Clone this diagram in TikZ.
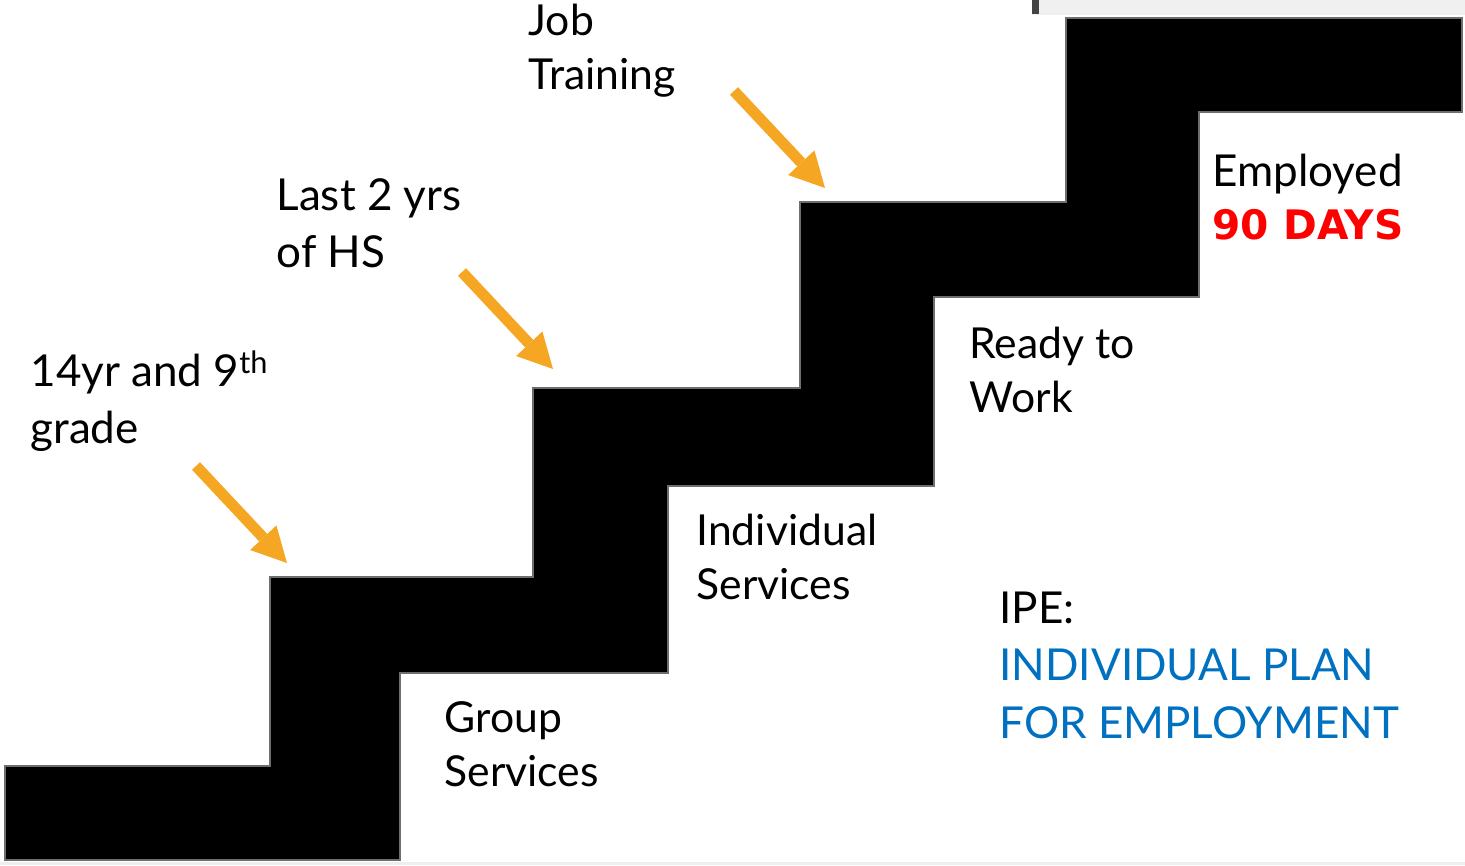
\documentclass[tikz,border=0pt]{standalone}
\usepackage{fontspec}
\setmainfont{Lato}
\newfontfamily\daysfont{DejaVu Sans}
\usetikzlibrary{arrows.meta}

\definecolor{stepOrange}{RGB}{245,166,35}
\definecolor{planBlue}{RGB}{0,112,192}
\definecolor{daysRed}{RGB}{255,0,0}

\tikzset{every picture/.style={line width=0.75pt}}
\tikzset{
  bigText/.style={anchor=base west, inner sep=0.75pt, align=left, font=\fontsize{33}{42.75}\selectfont},
  smallText/.style={anchor=base west, inner sep=0.75pt, align=left, font=\fontsize{32}{40.5}\selectfont},
  stepArrow/.style={draw=stepOrange, line width=8.25pt, -{Triangle[length=26pt,width=27pt,line width=0pt]}},
}

\begin{document}
\begin{tikzpicture}[x=0.75pt,y=0.75pt,yscale=-1,xscale=1]
\useasboundingbox (0,0) rectangle (1465,865);

%Shape: Rectangle (strip at the top)
\fill [color={rgb,255:red,240;green,240;blue,240}] (1032,0) rectangle (1465,15) ;
\fill [color={rgb,255:red,68;green,68;blue,68}] (1032,0) rectangle (1039,14) ;
%Shape: Rectangle (strip at the bottom)
\fill [color={rgb,255:red,238;green,238;blue,238}] (0,862) rectangle (1465,865) ;

%Shape: Polygon (the stairs)
\draw [color={rgb,255:red,110;green,110;blue,110}, line width=1.5, fill=black]
  (5,766) -- (270,766) -- (270,577) -- (533,577) -- (533,388) -- (800,388) -- (800,202) -- (1066,202) -- (1066,18) -- (1462,18) -- (1462,112) -- (1199,112) -- (1199,297) -- (934,297) -- (934,486) -- (668,486) -- (668,673) -- (400,673) -- (400,860) -- (5,860) -- cycle ;

% Arrows
\coordinate (tailA) at (196,466) ;
\coordinate (tipA) at (287,563) ;
\coordinate (tailB) at (462,272) ;
\coordinate (tipB) at (553,369) ;
\coordinate (tailC) at (734,91) ;
\coordinate (tipC) at (825,188) ;
\draw [stepArrow] (tailA) -- (tipA) ;
\draw [stepArrow] (tailB) -- (tipB) ;
\draw [stepArrow] (tailC) -- (tipC) ;

% Text Node (placed at the baseline of the last line)
\draw (527,89) node (jobTraining) [smallText] {Job\\Training};
% Text Node
\draw (275,267) node (lastYears) [bigText] {Last 2 yrs\\of HS};
% Text Node
\draw (29,443) node (ninthGrade) [bigText] {14yr and 9\textsuperscript{th}\\grade};
% Text Node
\draw (443,786) node (groupServices) [smallText] {Group\\Services};
% Text Node
\draw (695,599) node (individualServices) [smallText] {Individual\\Services};
% Text Node
\draw (968,412) node (readyWork) [smallText] {Ready to\\Work};
% Text Node
\draw (1211,239) node (employed) [bigText] {Employed\\[-3pt]\textcolor{daysRed}{\daysfont\bfseries\fontsize{30.5}{40}\selectfont 90 DAYS}};
% Text Node
\draw (998,738) node (ipe) [smallText, font=\fontsize{33}{43}\selectfont] {IPE:\\\textcolor{planBlue}{INDIVIDUAL PLAN}\\\textcolor{planBlue}{FOR EMPLOYMENT}};

\end{tikzpicture}
\end{document}
